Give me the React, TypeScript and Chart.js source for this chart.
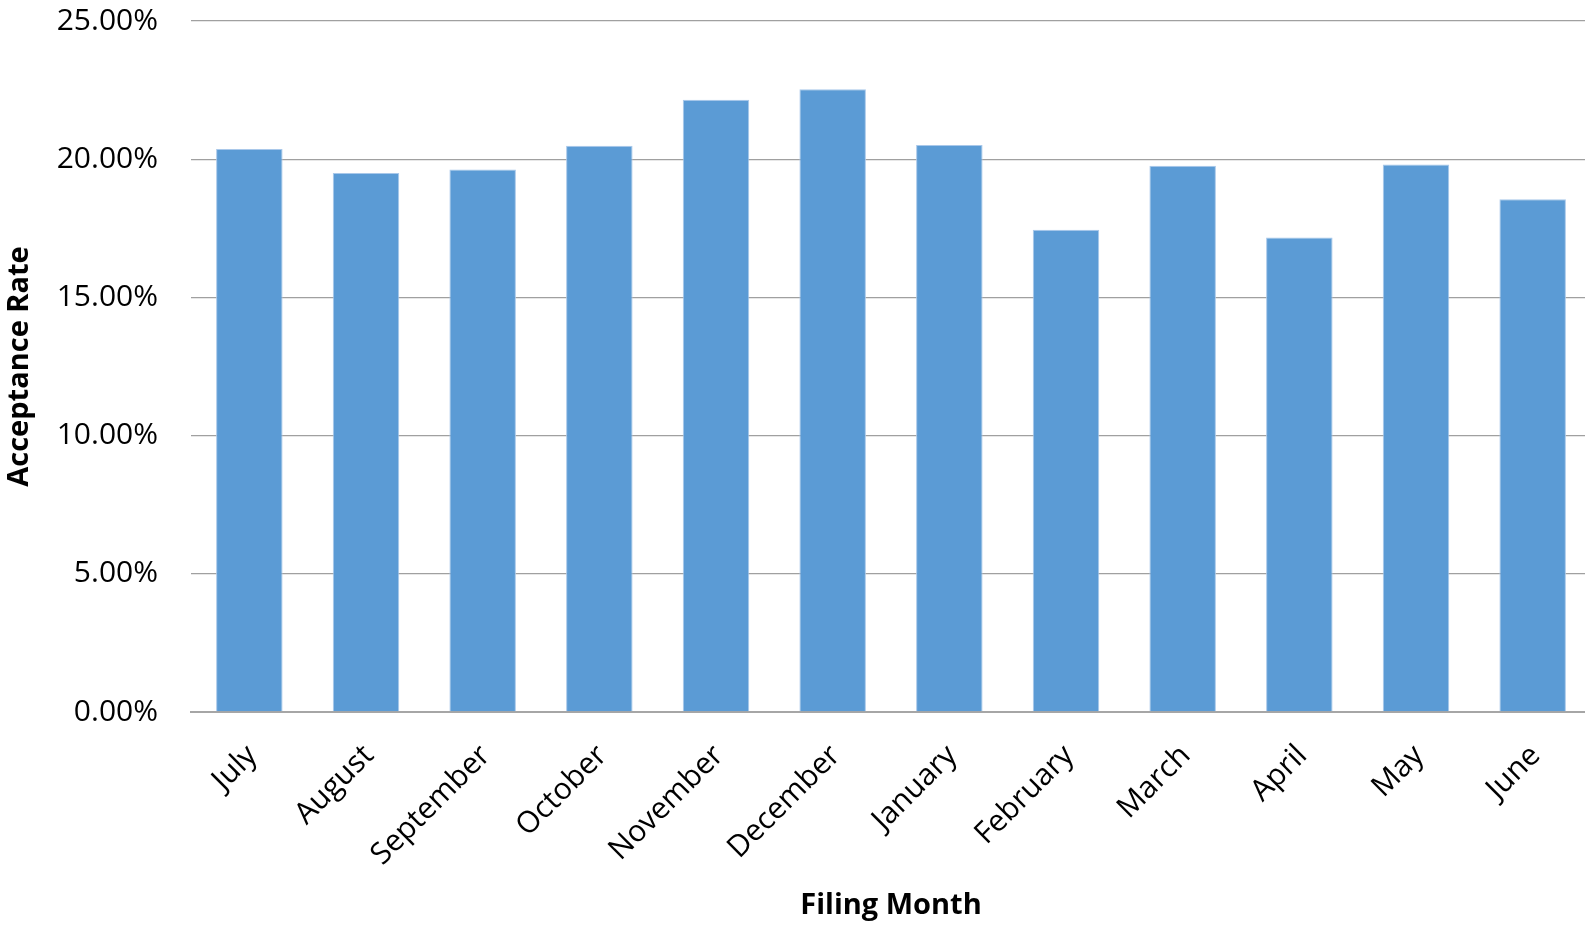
import React, { useEffect, useRef } from "react";
import { Chart, registerables } from "chart.js";

Chart.register(...registerables);

const months = ["July", "August", "September", "October", "November", "December", "January", "February", "March", "April", "May", "June"];
const acceptanceRate = [20.37, 19.5, 19.63, 20.49, 22.15, 22.53, 20.51, 17.45, 19.76, 17.17, 19.81, 18.55];
const yTicks = [0, 5, 10, 15, 20, 25];

const FONT = "'Open Sans', 'Liberation Sans', sans-serif";
const CANVAS_W = 1591;

export default function App() {
  const ref = useRef<HTMLCanvasElement | null>(null);
  useEffect(() => {
    document.body.style.margin = "0";
    if (!ref.current) return;
    const chart = new Chart(ref.current, {
      type: "bar",
      data: {
        labels: months,
        datasets: [
          {
            label: "Acceptance Rate",
            data: acceptanceRate,
            backgroundColor: "#5B9BD5",
            borderColor: "#A9C8EA",
            borderWidth: 1,
            barPercentage: 0.57,
            categoryPercentage: 1,
          },
        ],
      },
      options: {
        animation: false,
        responsive: false,
        maintainAspectRatio: false,
        layout: { padding: { top: 21, right: 0, left: 0, bottom: 0 } },
        plugins: { legend: { display: false }, tooltip: { enabled: false } },
        scales: {
          x: {
            offset: true,
            grid: { display: false, drawTicks: false },
            border: { display: true, color: "#A6A6A6", width: 2 },
            ticks: {
              minRotation: 45,
              maxRotation: 45,
              padding: 26,
              labelOffset: 3,
              color: "#000",
              font: { family: FONT, size: 30 },
            },
            title: {
              display: true,
              text: "Filing Month",
              color: "#000",
              font: { family: FONT, size: 29, weight: "bold" },
              padding: 4,
            },
            afterFit: (scale: any) => {
              scale.height = 215;
              scale.paddingLeft = 0;
              scale.paddingRight = 0;
            },
          },
          y: {
            min: 0,
            max: 25,
            afterBuildTicks: (scale: any) => {
              scale.ticks = yTicks.map((v) => ({ value: v }));
            },
            grid: { color: "#A0A0A0", lineWidth: 1.3, drawTicks: false },
            border: { display: false },
            ticks: {
              padding: 33,
              color: "#000",
              font: { family: FONT, size: 30 },
              callback: (v: any) => Number(v).toFixed(2) + "%",
            },
            title: {
              display: true,
              text: "Acceptance Rate",
              color: "#000",
              font: { family: FONT, size: 29, weight: "bold" },
              padding: 2,
            },
            afterFit: (scale: any) => {
              scale.width = 191;
              scale.paddingTop = 0;
              scale.paddingBottom = 0;
            },
          },
        },
      },
    });
    return () => chart.destroy();
  }, []);
  return (
    <div style={{ width: 1585, height: 927, position: "relative", overflow: "hidden" }}>
      <canvas ref={ref} width={CANVAS_W} height={927} style={{ width: CANVAS_W, height: 927, display: "block" }} />
    </div>
  );
}
